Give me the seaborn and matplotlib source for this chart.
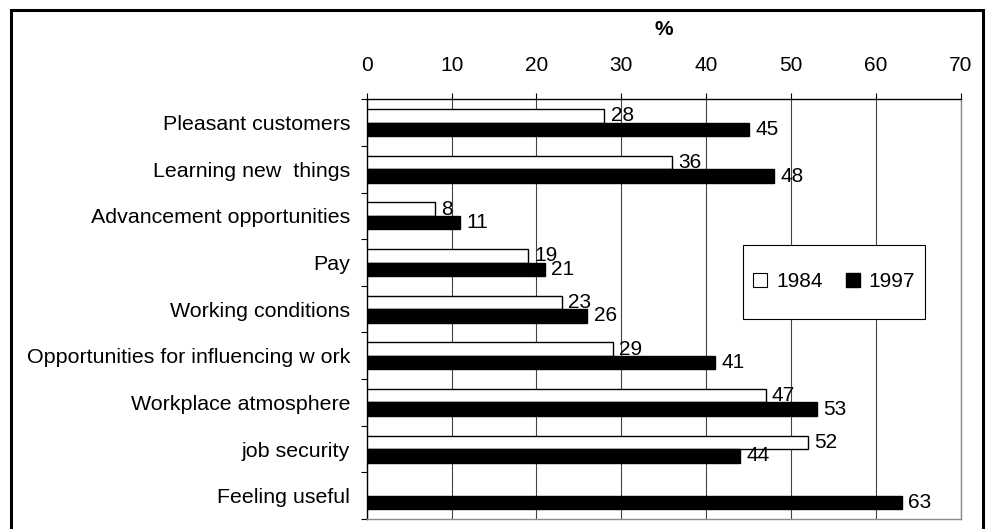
import numpy as np
import pandas as pd
import matplotlib
matplotlib.use("Agg")
import matplotlib.pyplot as plt
from matplotlib.patches import Rectangle
from matplotlib.lines import Line2D
import seaborn as sns

categories = [
    "Pleasant customers",
    "Learning new  things",
    "Advancement opportunities",
    "Pay",
    "Working conditions",
    "Opportunities for influencing w ork",
    "Workplace atmosphere",
    "job security",
    "Feeling useful",
]
years = ["1984", "1997"]
values_1984 = [28, 36, 8, 19, 23, 29, 47, 52, np.nan]
values_1997 = [45, 48, 11, 21, 26, 41, 53, 44, 63]
x_ticks = [0, 10, 20, 30, 40, 50, 60, 70]

df = pd.DataFrame({
    "item": categories * 2,
    "year": [years[0]] * len(categories) + [years[1]] * len(categories),
    "pct": values_1984 + values_1997,
}).dropna()

sns.set_style("white")
plt.rcParams["font.family"] = ["Liberation Sans", "DejaVu Sans"]
plt.rcParams["text.color"] = "black"
plt.rcParams["axes.labelcolor"] = "black"
plt.rcParams["xtick.color"] = "black"
plt.rcParams["ytick.color"] = "black"
FS = 15

fig = plt.figure(figsize=(9.87, 5.29), dpi=100)
ax = fig.add_axes([0.3715, 0.0189, 0.9737 - 0.3715, 0.8123 - 0.0189])

sns.barplot(
    data=df, y="item", x="pct", hue="year", order=categories, hue_order=years,
    palette={"1984": "white", "1997": "black"}, edgecolor="black", linewidth=1,
    width=0.58, orient="h", legend=False, ax=ax, zorder=3,
)

for cont in ax.containers:
    ax.bar_label(cont, fmt="%g", padding=4.5, fontsize=FS, color="black", zorder=4)

ax.set_xlim(0, 70)
ax.set_ylim(len(categories) - 0.5, -0.5)
ax.set_xticks(x_ticks)
ax.xaxis.tick_top()
ax.xaxis.set_label_position("top")
ax.set_xlabel("%", fontsize=FS, fontweight="bold", labelpad=15, color="black")
ax.set_ylabel("")
ax.tick_params(axis="x", which="major", direction="out", length=4.3, width=0.8,
               pad=13, labelsize=FS, color="black", labelcolor="black",
               top=True, bottom=False)
ax.tick_params(axis="y", which="major", length=0, pad=12, labelsize=15.4,
               labelcolor="black")
ax.set_yticks(np.arange(-0.5, len(categories)), minor=True)
ax.tick_params(axis="y", which="minor", direction="out", length=4.3, width=0.8,
               color="black", left=True)

ax.grid(axis="x", color="#444444", linewidth=0.8, zorder=0)
ax.grid(axis="y", visible=False)
for side in ("top", "left"):
    ax.spines[side].set_color("black")
    ax.spines[side].set_linewidth(1.0)
for side in ("right", "bottom"):
    ax.spines[side].set_color("#8c8c8c")
    ax.spines[side].set_linewidth(1.0)
    ax.spines[side].set_visible(True)

# legend box
lx0, ly0, lw, lh = 0.633, 0.4765, 0.306, 0.1765
ax.add_patch(Rectangle((lx0, ly0), lw, lh, transform=ax.transAxes,
                       facecolor="white", edgecolor="black", linewidth=0.8,
                       zorder=5))
handles = [
    Line2D([], [], linestyle="none", marker="s", markersize=9.5,
           markerfacecolor="white", markeredgecolor="black", markeredgewidth=0.8),
    Line2D([], [], linestyle="none", marker="s", markersize=9.5,
           markerfacecolor="black", markeredgecolor="black"),
]
leg = ax.legend(handles, years, loc="center", ncol=2, frameon=False,
                bbox_to_anchor=(lx0 + lw / 2, ly0 + lh / 2), fontsize=FS,
                handlelength=0.7, handletextpad=0.4, columnspacing=1.1)
for t in leg.get_texts():
    t.set_color("black")
leg.set_zorder(6)

# outer frame
fig.patches.append(Rectangle((11 / 987, -0.05), (983 - 11) / 987, 1.05 - 10 / 529,
                             transform=fig.transFigure, fill=False,
                             edgecolor="black", linewidth=2.2))

fig.savefig("out.png", dpi=100)
